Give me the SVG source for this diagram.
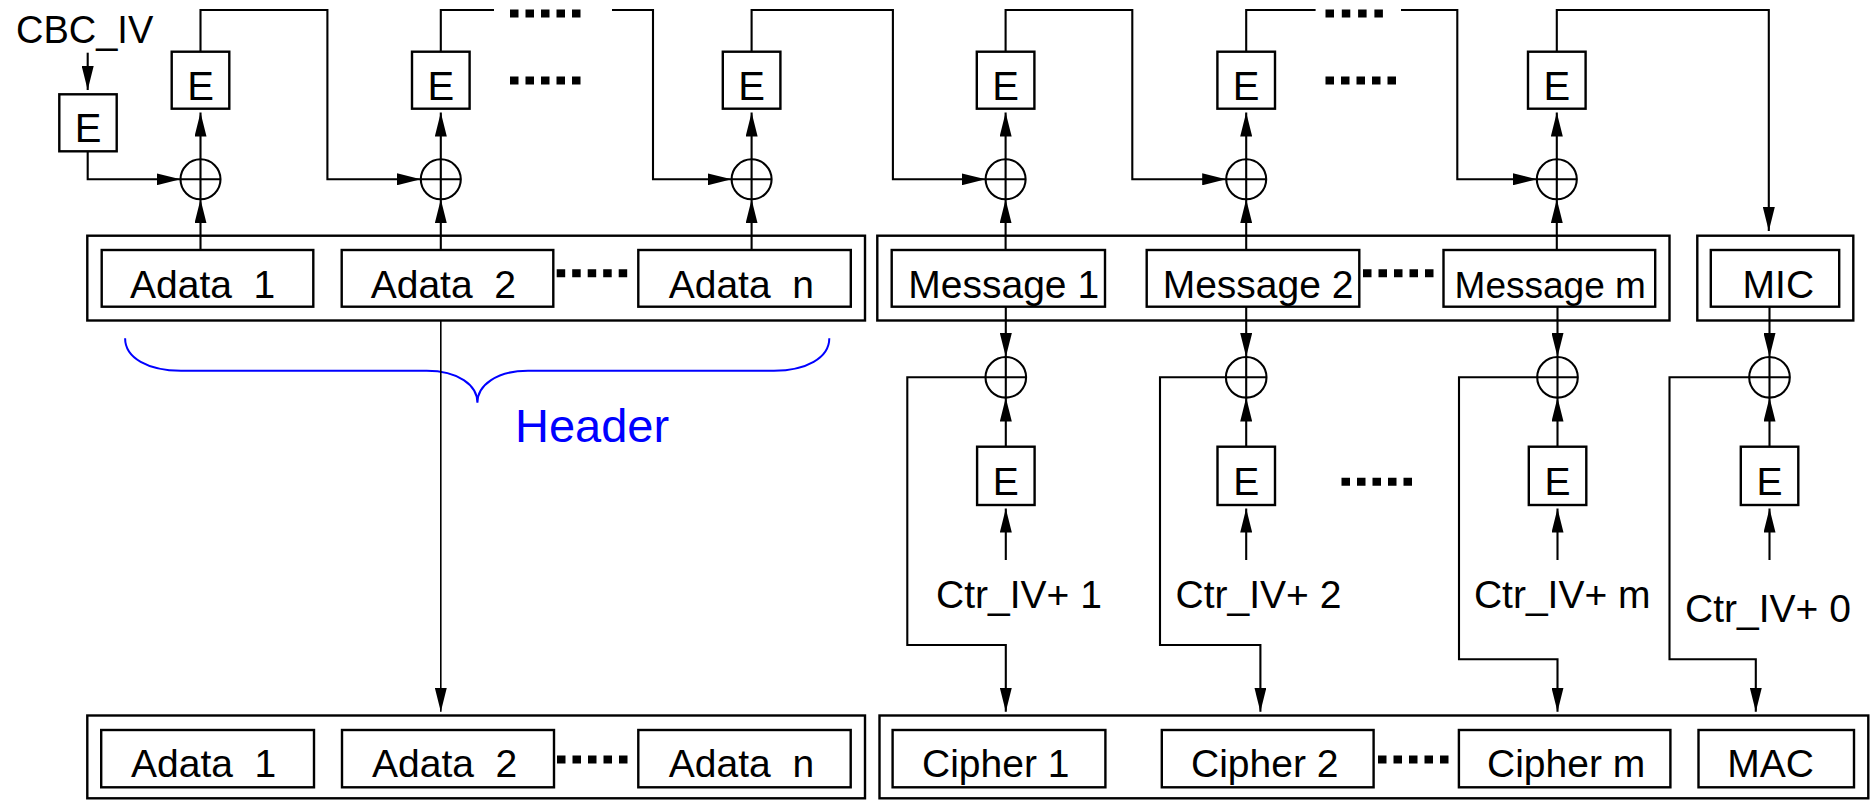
<svg xmlns="http://www.w3.org/2000/svg" width="1873" height="800" viewBox="0 0 1873 800">
  <defs>
    <marker id="ah" markerUnits="userSpaceOnUse" markerWidth="24" markerHeight="12" viewBox="0 0 24 12" refX="24" refY="6" orient="auto">
      <path d="M0,0 L24,6 L0,12 Z" fill="#000"/>
    </marker>
    <style>
      .box { fill: none; stroke: #000; stroke-width: 2.4; }
      .wire { fill: none; stroke: #000; stroke-width: 2.1; }
      .thin { fill: none; stroke: #000; stroke-width: 1.6; }
      .arr { marker-end: url(#ah); }
      .xor circle { fill: #fff; stroke: #000; stroke-width: 2.1; }
      .xor path { stroke: #000; stroke-width: 2.1; fill: none; }
      .dots { fill: none; stroke: #000; stroke-width: 8; stroke-dasharray: 8.5 7; }
      .dots4 { fill: none; stroke: #000; stroke-width: 8; stroke-dasharray: 8.5 7.8; }
      text { font-family: "Liberation Sans", Arial, Helvetica, sans-serif; fill: #000; }
      .lbl { font-size: 39px; }
      .e { font-size: 40px; text-anchor: middle; }
      .hdr { font-size: 47px; fill: #0000ff; }
      .brace { fill: none; stroke: #0000ff; stroke-width: 2; }
    </style>
  </defs>

  <!-- CBC-MAC chain: initial block -->
  <g id="cbc-iv"><text class="lbl" x="16" y="42.7" style="font-size:38px">CBC_IV</text></g>
  <g id="e0"><rect class="box" x="59.3" y="94.3" width="57.4" height="57"/><text class="e" x="88" y="142">E</text></g>

  <!-- CBC-MAC encryption blocks -->
  <g id="e-top-1"><rect class="box" x="171.7" y="51.7" width="57.6" height="57"/><text class="e" x="200.5" y="100">E</text></g>
  <g id="e-top-2"><rect class="box" x="412" y="51.7" width="57.6" height="57"/><text class="e" x="440.8" y="100">E</text></g>
  <g id="e-top-3"><rect class="box" x="722.8" y="51.7" width="57.6" height="57"/><text class="e" x="751.6" y="100">E</text></g>
  <g id="e-top-4"><rect class="box" x="976.8" y="51.7" width="57.6" height="57"/><text class="e" x="1005.6" y="100">E</text></g>
  <g id="e-top-5"><rect class="box" x="1217.4" y="51.7" width="57.6" height="57"/><text class="e" x="1246.2" y="100">E</text></g>
  <g id="e-top-6"><rect class="box" x="1528" y="51.7" width="57.6" height="57"/><text class="e" x="1556.8" y="100">E</text></g>

  <!-- XOR nodes of the CBC chain -->
  <g id="xor-top-1" class="xor"><circle cx="200.5" cy="179.3" r="20"/><path d="M180.5,179.3 H220.5 M200.5,159.3 V199.3"/></g>
  <g id="xor-top-2" class="xor"><circle cx="440.8" cy="179.3" r="20"/><path d="M420.8,179.3 H460.8 M440.8,159.3 V199.3"/></g>
  <g id="xor-top-3" class="xor"><circle cx="751.6" cy="179.3" r="20"/><path d="M731.6,179.3 H771.6 M751.6,159.3 V199.3"/></g>
  <g id="xor-top-4" class="xor"><circle cx="1005.6" cy="179.3" r="20"/><path d="M985.6,179.3 H1025.6 M1005.6,159.3 V199.3"/></g>
  <g id="xor-top-5" class="xor"><circle cx="1246.2" cy="179.3" r="20"/><path d="M1226.2,179.3 H1266.2 M1246.2,159.3 V199.3"/></g>
  <g id="xor-top-6" class="xor"><circle cx="1556.8" cy="179.3" r="20"/><path d="M1536.8,179.3 H1576.8 M1556.8,159.3 V199.3"/></g>

  <!-- Input frame: header, message, MIC -->
  <g id="header-in">
    <rect class="box" x="87.3" y="235.7" width="777.7" height="84.8"/>
    <rect class="box" x="101.7" y="250" width="211.6" height="56.7"/>
    <rect class="box" x="341.7" y="250" width="211.6" height="56.7"/>
    <rect class="box" x="638.3" y="250" width="212.5" height="56.7"/>
    <text class="lbl" x="130" y="298.3" xml:space="preserve">Adata  1</text>
    <text class="lbl" x="370.7" y="298.3" xml:space="preserve">Adata  2</text>
    <text class="lbl" x="668.7" y="298.3" xml:space="preserve">Adata  n</text>
  </g>
  <g id="message-in">
    <rect class="box" x="877.3" y="235.7" width="792.2" height="84.8"/>
    <rect class="box" x="891.7" y="250" width="213.3" height="56.7"/>
    <rect class="box" x="1146.7" y="250" width="212.6" height="56.7"/>
    <rect class="box" x="1443.5" y="250" width="211.7" height="56.7"/>
    <text class="lbl" x="908.3" y="298.3">Message 1</text>
    <text class="lbl" x="1162.7" y="298.3">Message 2</text>
    <text class="lbl" x="1454.6" y="298.3" style="font-size:37px">Message m</text>
  </g>
  <g id="mic">
    <rect class="box" x="1697.3" y="235.7" width="156" height="84.8"/>
    <rect class="box" x="1710.8" y="250" width="128.4" height="56.7"/>
    <text class="lbl" x="1742.6" y="298.3">MIC</text>
  </g>

  <!-- Header brace -->
  <g id="header-brace">
    <path class="brace" d="M125.1,338.3 C125.1,358 148,370.7 181,370.7 H426.7 C458,370.7 477.4,385 477.4,402.7 C477.4,385 497,370.7 528,370.7 H774 C806,370.7 829.3,358 829.3,338.3"/>
    <text class="hdr" x="515" y="441.7">Header</text>
  </g>

  <!-- CTR keystream blocks -->
  <g id="xor-ctr-1" class="xor"><circle cx="1005.8" cy="377.3" r="20.3"/><path d="M985.5,377.3 H1026.1 M1005.8,357 V397.6"/></g>
  <g id="xor-ctr-2" class="xor"><circle cx="1246.2" cy="377.3" r="20.3"/><path d="M1225.9,377.3 H1266.5 M1246.2,357 V397.6"/></g>
  <g id="xor-ctr-m" class="xor"><circle cx="1557.5" cy="377.3" r="20.3"/><path d="M1537.2,377.3 H1577.8 M1557.5,357 V397.6"/></g>
  <g id="xor-ctr-0" class="xor"><circle cx="1769.5" cy="377.3" r="20.3"/><path d="M1749.2,377.3 H1789.8 M1769.5,357 V397.6"/></g>

  <g id="e-ctr-1"><rect class="box" x="977.1" y="446.7" width="57.5" height="58.3"/><text class="e" x="1005.8" y="494.5" style="font-size:39px">E</text></g>
  <g id="e-ctr-2"><rect class="box" x="1217.5" y="446.7" width="57.5" height="58.3"/><text class="e" x="1246.2" y="494.5" style="font-size:39px">E</text></g>
  <g id="e-ctr-m"><rect class="box" x="1528.8" y="446.7" width="57.5" height="58.3"/><text class="e" x="1557.5" y="494.5" style="font-size:39px">E</text></g>
  <g id="e-ctr-0"><rect class="box" x="1740.8" y="446.7" width="57.5" height="58.3"/><text class="e" x="1769.5" y="494.5" style="font-size:39px">E</text></g>

  <g id="ctr-1"><text class="lbl" x="936" y="608.3">Ctr_IV+ 1</text></g>
  <g id="ctr-2"><text class="lbl" x="1175.5" y="608.3">Ctr_IV+ 2</text></g>
  <g id="ctr-m"><text class="lbl" x="1473.9" y="608.3">Ctr_IV+ m</text></g>
  <g id="ctr-0"><text class="lbl" x="1685" y="621.7">Ctr_IV+ 0</text></g>

  <!-- Output frame -->
  <g id="header-out">
    <rect class="box" x="87.3" y="715.5" width="777.7" height="82.8"/>
    <rect class="box" x="101.2" y="730" width="212.8" height="57.3"/>
    <rect class="box" x="342" y="730" width="212" height="57.3"/>
    <rect class="box" x="638.3" y="730" width="212.4" height="57.3"/>
    <text class="lbl" x="131" y="776.7" xml:space="preserve">Adata  1</text>
    <text class="lbl" x="372" y="776.7" xml:space="preserve">Adata  2</text>
    <text class="lbl" x="668.8" y="776.7" xml:space="preserve">Adata  n</text>
  </g>
  <g id="cipher-out">
    <rect class="box" x="879.5" y="715.5" width="988.8" height="82.8"/>
    <rect class="box" x="892.6" y="730" width="212.8" height="57.3"/>
    <rect class="box" x="1161.8" y="730" width="211.8" height="57.3"/>
    <rect class="box" x="1458.9" y="730" width="211.5" height="57.3"/>
    <rect class="box" x="1698.5" y="730" width="155.5" height="57.3"/>
    <text class="lbl" x="922" y="776.7">Cipher 1</text>
    <text class="lbl" x="1191" y="776.7">Cipher 2</text>
    <text class="lbl" x="1487" y="776.7">Cipher m</text>
    <text class="lbl" x="1727.3" y="776.7">MAC</text>
  </g>

  <!-- Ellipsis marks -->
  <g id="ellipses">
    <path class="dots" d="M510,13.5 H581"/>
    <path class="dots" d="M510,80.5 H581"/>
    <path class="dots" d="M556.7,273.3 H628.7"/>
    <path class="dots4" d="M1325.5,13.5 H1383"/>
    <path class="dots" d="M1325.5,80.5 H1397"/>
    <path class="dots" d="M1363,273.3 H1435"/>
    <path class="dots" d="M1341.5,481.7 H1413.5"/>
    <path class="dots" d="M557,759.4 H629"/>
    <path class="dots" d="M1378,759.4 H1450"/>
  </g>

  <!-- Connectors -->
  <g id="connectors">
    <path class="wire arr" d="M87.7,52.7 V90"/>
    <path class="wire arr" d="M87.7,151.3 V179.3 H180.5"/>

    <path class="wire arr" d="M200.5,250 V199.3"/>
    <path class="wire arr" d="M440.8,250 V199.3"/>
    <path class="wire arr" d="M751.6,250 V199.3"/>
    <path class="wire arr" d="M1005.6,250 V199.3"/>
    <path class="wire arr" d="M1246.2,250 V199.3"/>
    <path class="wire arr" d="M1556.8,250 V199.3"/>

    <path class="wire arr" d="M200.5,159.3 V112.5"/>
    <path class="wire arr" d="M440.8,159.3 V112.5"/>
    <path class="wire arr" d="M751.6,159.3 V112.5"/>
    <path class="wire arr" d="M1005.6,159.3 V112.5"/>
    <path class="wire arr" d="M1246.2,159.3 V112.5"/>
    <path class="wire arr" d="M1556.8,159.3 V112.5"/>

    <path class="wire arr" d="M200.5,51.7 V10 H327.4 V179.3 H420.8"/>
    <path class="wire" d="M440.8,51.7 V10 H494"/>
    <path class="wire arr" d="M612,10 H653 V179.3 H731.6"/>
    <path class="wire arr" d="M751.6,51.7 V10 H892.9 V179.3 H985.6"/>
    <path class="wire arr" d="M1005.6,51.7 V10 H1132.3 V179.3 H1226.2"/>
    <path class="wire" d="M1246.2,51.7 V10 H1315.6"/>
    <path class="wire arr" d="M1401,10 H1457.3 V179.3 H1536.8"/>
    <path class="wire arr" d="M1556.8,51.7 V10 H1768.8 V231"/>

    <path class="thin arr" d="M440.8,320.5 V711.7"/>

    <path class="wire arr" d="M1005.8,306.7 V357"/>
    <path class="wire arr" d="M1246.2,306.7 V357"/>
    <path class="wire arr" d="M1557.5,306.7 V357"/>
    <path class="wire arr" d="M1769.5,306.7 V357"/>

    <path class="wire arr" d="M1005.8,446.7 V397.6"/>
    <path class="wire arr" d="M1246.2,446.7 V397.6"/>
    <path class="wire arr" d="M1557.5,446.7 V397.6"/>
    <path class="wire arr" d="M1769.5,446.7 V397.6"/>

    <path class="wire arr" d="M1005.8,560 V508.5"/>
    <path class="wire arr" d="M1246.2,560 V508.5"/>
    <path class="wire arr" d="M1557.5,560 V508.5"/>
    <path class="wire arr" d="M1769.5,560 V508.5"/>

    <path class="wire arr" d="M985.5,377.3 H907.3 V645 H1005.8 V711.7"/>
    <path class="wire arr" d="M1225.9,377.3 H1160 V645 H1260.4 V711.7"/>
    <path class="wire arr" d="M1537.2,377.3 H1459 V659.3 H1557.5 V711.7"/>
    <path class="wire arr" d="M1749.2,377.3 H1669.5 V659.3 H1755.8 V711.7"/>
  </g>
</svg>
